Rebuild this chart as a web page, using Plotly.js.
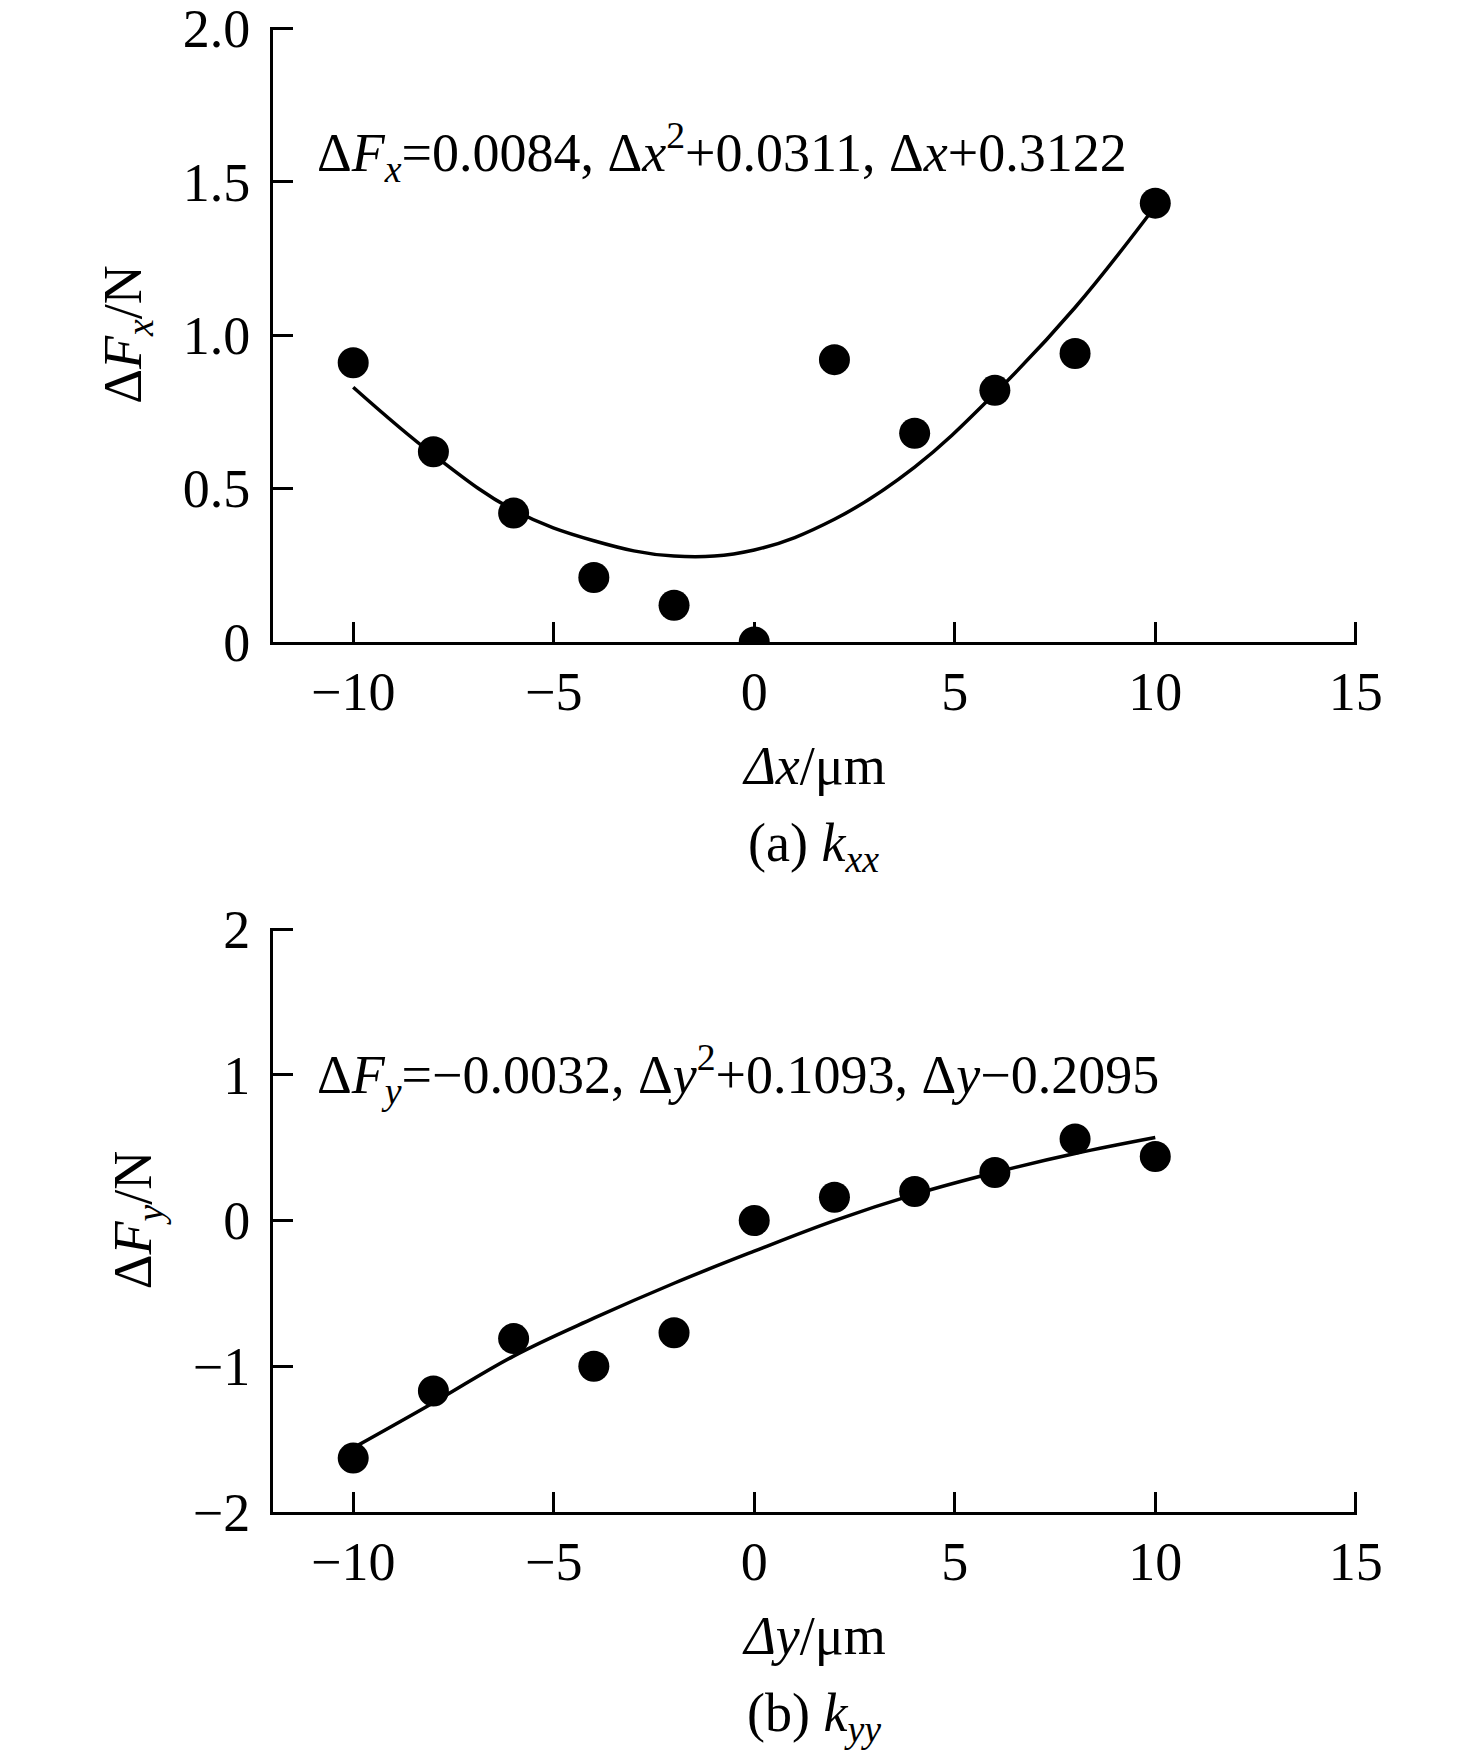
<!DOCTYPE html>
<html>
<head>
<meta charset="utf-8">
<script src="https://cdn.plot.ly/plotly-3.0.1.min.js"></script>
<style>
  html, body {margin: 0; padding: 0; background: #ffffff;}
  #graph {width: 1476px; height: 1763px;}
</style>
</head>
<body>
<div id="graph"></div>
<script>
//displacement steps (um), same for both panels
const dx = [-10, -8, -6, -4, -2, 0, 2, 4, 6, 8, 10]
const dy = [-10, -8, -6, -4, -2, 0, 2, 4, 6, 8, 10]

const fxMeasured = [0.91, 0.62, 0.42, 0.21, 0.12, 0.00, 0.92, 0.68, 0.82, 0.94, 1.43]
const fxFit = [0.83, 0.61, 0.43, 0.33, 0.28, 0.30, 0.40, 0.57, 0.81, 1.09, 1.42]

//panel (b)
const fyMeasured = [-1.63, -1.17, -0.81, -1.00, -0.77, 0.00, 0.16, 0.20, 0.33, 0.56, 0.44]
const fyFit = [-1.56, -1.25, -0.93, -0.67, -0.43, -0.21, 0.00, 0.18, 0.33, 0.46, 0.57]

//tick labels
const xTickVals = [-10, -5, 0, 5, 10, 15]
const xTickText = ['\u221210', '\u22125', '0', '5', '10', '15']
const yaTickVals = [0, 0.5, 1, 1.5, 2]
const yaTickText = ['0', '0.5', '1.0', '1.5', '2.0']
const ybTickVals = [-2, -1, 0, 1, 2]
const ybTickText = ['\u22122', '\u22121', '0', '1', '2']

const fontFamily = '"Liberation Serif", "Times New Roman", serif'
const fontSize = 54

//set up traces
function markers(x, y, xa, ya) {
  return {
    x: x, y: y, xaxis: xa, yaxis: ya,
    type: 'scatter', mode: 'markers',
    marker: {color: '#000000', size: 31},
    showlegend: false, hoverinfo: 'skip'
  }
}
function fitLine(x, y, xa, ya) {
  return {
    x: x, y: y, xaxis: xa, yaxis: ya,
    type: 'scatter', mode: 'lines',
    line: {color: '#000000', width: 3.5, shape: 'spline', smoothing: 1.1},
    showlegend: false, hoverinfo: 'skip'
  }
}

const data = [
  fitLine(dx, fxFit, 'x', 'y'),
  markers(dx, fxMeasured, 'x', 'y'),
  fitLine(dy, fyFit, 'x2', 'y2'),
  markers(dy, fyMeasured, 'x2', 'y2')
]

//shared axis style
function axisStyle(extra) {
  return Object.assign({
    showline: true, linecolor: '#000000', linewidth: 3,
    ticks: 'inside', ticklen: 20, tickwidth: 3, tickcolor: '#000000',
    showgrid: false, zeroline: false, mirror: false,
    tickfont: {family: fontFamily, size: fontSize, color: '#000000'},
    tickmode: 'array', fixedrange: true, ticklabeloverflow: 'allow'
  }, extra)
}

const W = 1476, H = 1763
const xDomain = [273 / W, 1357 / W]

//ranges reach a hair past the last tick so the end ticks are still drawn
const layout = {
  width: W, height: H,
  margin: {l: 0, r: 0, t: 0, b: 0},
  paper_bgcolor: '#ffffff', plot_bgcolor: '#ffffff',
  font: {family: fontFamily, size: fontSize, color: '#000000'},
  showlegend: false,
  xaxis: axisStyle({
    domain: xDomain, anchor: 'y', range: [-12, 15.03],
    tickvals: xTickVals, ticktext: xTickText,
    title: {text: '<i>\u0394x</i>/\u03bcm', font: {family: fontFamily, size: fontSize}, standoff: 26}
  }),
  yaxis: axisStyle({
    domain: [1 - 642 / H, 1 - 27 / H], anchor: 'x', range: [0, 2.004],
    tickvals: yaTickVals, ticktext: yaTickText, ticklabelstandoff: 9,
    title: {text: '\u0394<i>F</i><sub><i>x</i></sub>/N', font: {family: fontFamily, size: fontSize}, standoff: 24}
  }),
  xaxis2: axisStyle({
    domain: xDomain, anchor: 'y2', range: [-12, 15.03],
    tickvals: xTickVals, ticktext: xTickText,
    title: {text: '<i>\u0394y</i>/\u03bcm', font: {family: fontFamily, size: fontSize}, standoff: 26}
  }),
  yaxis2: axisStyle({
    domain: [1 - 1512 / H, 1 - 928 / H], anchor: 'x2', range: [-2, 2.008],
    tickvals: ybTickVals, ticktext: ybTickText, ticklabelstandoff: 9,
    title: {text: '\u0394<i>F</i><sub><i>y</i></sub>/N', font: {family: fontFamily, size: fontSize}, standoff: 24}
  }),
  annotations: [
    {
      text: '\u0394<i>F</i><sub><i>x</i></sub>=0.0084, \u0394<i>x</i><sup>2</sup>+0.0311, \u0394<i>x</i>+0.3122',
      xref: 'paper', yref: 'paper', x: 315 / W, y: 1 - 152 / H,
      xanchor: 'left', yanchor: 'middle', showarrow: false,
      font: {family: fontFamily, size: fontSize}
    },
    {
      text: '\u0394<i>F</i><sub><i>y</i></sub>=\u22120.0032, \u0394<i>y</i><sup>2</sup>+0.1093, \u0394<i>y</i>\u22120.2095',
      xref: 'paper', yref: 'paper', x: 315 / W, y: 1 - 1074 / H,
      xanchor: 'left', yanchor: 'middle', showarrow: false,
      font: {family: fontFamily, size: fontSize}
    },
    {
      text: '(a) <i>k</i><sub><i>xx</i></sub>',
      xref: 'paper', yref: 'paper', x: 814 / W, y: 1 - 846 / H,
      xanchor: 'center', yanchor: 'middle', showarrow: false,
      font: {family: fontFamily, size: fontSize}
    },
    {
      text: '(b) <i>k</i><sub><i>yy</i></sub>',
      xref: 'paper', yref: 'paper', x: 814 / W, y: 1 - 1716 / H,
      xanchor: 'center', yanchor: 'middle', showarrow: false,
      font: {family: fontFamily, size: fontSize}
    }
  ]
}

const config = {displayModeBar: false, staticPlot: true}

Plotly.newPlot(document.getElementById('graph'), data, layout, config)
</script>
</body>
</html>
